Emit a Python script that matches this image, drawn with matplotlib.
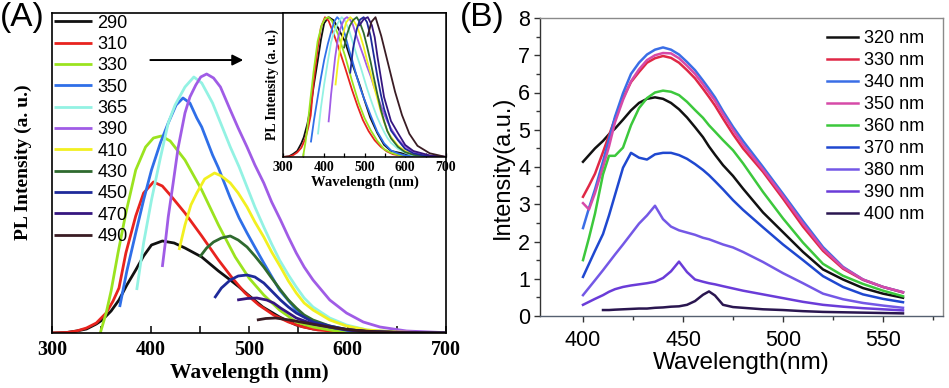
import numpy as np
import matplotlib
matplotlib.use('Agg')
import matplotlib.pyplot as plt
from matplotlib.ticker import MultipleLocator

SERIF = 'Liberation Serif'
SANS = 'Liberation Sans'

# ── panel A: PL spectra, excitation 290-490 nm ───────────────────────────────
A_EXC = ['290', '310', '330', '350', '365', '390', '410', '430', '450', '470', '490']
A_COLORS = ['#111111', '#e8231e', '#9be31f', '#2f6fe8', '#93f2e3', '#a05ce6',
            '#f2f020', '#2f6a2f', '#1e2a9a', '#361680', '#3a1c24']

WL_290 = [300, 315, 325, 335, 345, 351, 360, 368, 376, 385, 393, 401, 412, 424, 435,
          452, 469, 481, 490, 498, 514, 531, 548, 565, 582, 600, 620, 660, 700]
PL_290 = [0, 0.5, 2, 4, 9, 13, 22, 33, 48, 63, 77, 88, 92, 90, 85,
          76, 62, 53, 46, 39, 26, 16, 8, 4, 3, 2, 1, 0.3, 0]
WL_310 = [300, 315, 325, 335, 345, 355, 362, 368, 375, 385, 393, 403, 412, 420, 435,
          452, 469, 483, 496, 510, 525, 540, 555, 570, 590, 620, 660, 700]
PL_310 = [0, 0.5, 2, 5, 10, 20, 32, 45, 80, 117, 140, 151, 147, 138, 120,
          97, 73, 55, 40, 28, 18, 11, 6, 3, 1.5, 0.7, 0.2, 0]
WL_330 = [349, 355, 360, 367, 375, 385, 395, 403, 411, 420, 435, 452, 469, 486,
          500, 515, 531, 548, 565, 585, 605, 640, 700]
PL_330 = [0, 20, 42, 80, 120, 163, 186, 195, 197, 192, 173, 143, 108, 76,
          55, 38, 23, 11, 6, 2.5, 0.8, 0.2, 0]
WL_350 = [368.7, 376, 385, 393, 401, 410, 418, 426, 433, 440, 447, 452, 463, 469, 481,
          490, 498, 507, 515, 531, 548, 565, 582, 600, 630, 670, 700]
PL_350 = [26, 62, 100, 133, 163, 190, 210, 228, 235, 230, 215, 206, 178, 165, 135,
          115, 100, 84, 70, 43, 23, 11, 6, 2.5, 0.8, 0.2, 0]
WL_365 = [386, 393, 401, 410, 418, 425, 435, 444, 452, 463, 472, 481, 490, 498, 506,
          515, 523, 531, 540, 548, 556, 565, 582, 599, 620, 650, 700]
PL_365 = [43, 90, 133, 175, 210, 228, 246, 256, 250, 230, 208, 186, 166, 146, 126,
          106, 89, 73, 58, 46, 35, 26, 15, 8, 3, 1, 0]
WL_390 = [412, 415, 418, 423, 428, 435, 440, 446, 451, 457, 464, 471, 481, 489, 498,
          506, 515, 523, 532, 540, 548, 556, 565, 582, 599, 616, 633, 660, 700]
PL_390 = [66, 90, 116, 150, 185, 220, 236, 248, 256, 259, 255, 246, 223, 205, 186,
          168, 150, 131, 113, 96, 80, 66, 53, 33, 20, 11, 6, 2, 0.3]
WL_410 = [429, 435, 441, 447, 455, 465, 472, 481, 489, 498, 506, 515, 523, 532, 540,
          548, 556, 565, 582, 599, 620, 650, 700]
PL_410 = [83, 108, 128, 140, 154, 160, 157, 150, 140, 126, 111, 96, 81, 66, 52,
          40, 30, 23, 13, 7, 3, 1, 0]
WL_430 = [450, 457, 464, 472, 481, 489, 498, 506, 515, 523, 532, 540, 548, 556, 565,
          582, 599, 620, 650, 700]
PL_430 = [76, 85, 91, 95, 97, 93, 86, 77, 66, 55, 43, 33, 25, 18, 13,
          7, 3.5, 1.5, 0.5, 0]
WL_450 = [465, 472, 481, 489, 498, 506, 515, 523, 532, 540, 548, 565, 582, 599, 620, 650, 700]
PL_450 = [35, 45, 53, 57, 58, 56, 50, 42, 33, 26, 20, 11, 7, 3.5, 1.5, 0.5, 0]
WL_470 = [488, 498, 508, 518, 525, 532, 540, 548, 565, 582, 600, 620, 660, 700]
PL_470 = [33, 34.5, 35, 33, 30, 25, 20, 15, 9, 6, 3, 1.5, 0.4, 0]
WL_490 = [508, 517, 527, 541, 558, 575, 592, 610, 630, 660, 700]
PL_490 = [13, 14.5, 15, 13, 10, 7, 4.5, 2.5, 1.2, 0.4, 0]

A_WL = [WL_290, WL_310, WL_330, WL_350, WL_365, WL_390, WL_410, WL_430, WL_450, WL_470, WL_490]
A_PL = [PL_290, PL_310, PL_330, PL_350, PL_365, PL_390, PL_410, PL_430, PL_450, PL_470, PL_490]

# ── panel B: intensity vs wavelength, excitation 320-400 nm ─────────────────
B_EXC = ['320 nm', '330 nm', '340 nm', '350 nm', '360 nm', '370 nm', '380 nm', '390 nm', '400 nm']
B_COLORS = ['#111111', '#e02846', '#3a6ee6', '#d64aa8', '#3cc83c', '#1f48d0',
            '#7458e6', '#6a3cd8', '#2a1650']
B_WL = [400, 403, 406, 410, 413, 416, 420, 424, 428, 432, 436, 440, 444, 448, 452,
        456, 460, 463, 466, 470, 475, 480, 490, 500, 510, 520, 530, 540, 550, 560]
I_320 = [4.14, 4.32, 4.5, 4.7, 4.88, 5.03, 5.27, 5.52, 5.72, 5.83, 5.87, 5.83, 5.72, 5.55, 5.33,
         5.07, 4.8, 4.55, 4.33, 4.05, 3.76, 3.42, 2.78, 2.25, 1.72, 1.25, 0.98, 0.75, 0.6, 0.49]
I_330 = [3.2, 3.5, 3.82, 4.4, 4.85, 5.3, 5.85, 6.28, 6.55, 6.8, 6.92, 6.98, 6.93, 6.8, 6.6,
         6.38, 6.1, 5.88, 5.65, 5.3, 4.88, 4.5, 3.87, 3.15, 2.4, 1.75, 1.27, 0.97, 0.78, 0.63]
I_340 = [2.36, 2.9, 3.4, 4.15, 4.75, 5.35, 5.98, 6.5, 6.8, 7.02, 7.15, 7.21, 7.15, 7.02, 6.82,
         6.6, 6.32, 6.1, 5.87, 5.5, 5.08, 4.7, 4.0, 3.28, 2.55, 1.85, 1.32, 0.98, 0.78, 0.64]
I_350 = [3.03, 2.86, 3.3, 4.0, 4.55, 5.2, 5.8, 6.3, 6.62, 6.87, 7.0, 7.06, 7.05, 6.92, 6.72,
         6.5, 6.22, 6.0, 5.78, 5.42, 5.0, 4.6, 3.93, 3.22, 2.48, 1.8, 1.3, 0.98, 0.78, 0.64]
I_360 = [1.5, 2.1, 2.75, 3.8, 4.3, 4.3, 4.52, 5.12, 5.58, 5.85, 6.0, 6.05, 6.02, 5.93, 5.75,
         5.53, 5.32, 5.12, 4.95, 4.72, 4.45, 4.1, 3.33, 2.62, 1.97, 1.4, 1.08, 0.86, 0.68, 0.53]
I_370 = [1.05, 1.4, 1.75, 2.2, 2.7, 3.25, 3.98, 4.38, 4.25, 4.2, 4.34, 4.38, 4.38, 4.32, 4.22,
         4.08, 3.92, 3.78, 3.62, 3.4, 3.11, 2.85, 2.38, 1.92, 1.5, 1.07, 0.78, 0.58, 0.46, 0.37]
I_380 = [0.56, 0.76, 0.96, 1.23, 1.44, 1.65, 1.92, 2.2, 2.48, 2.7, 2.96, 2.6, 2.4, 2.3, 2.24,
         2.18, 2.1, 2.06, 2.0, 1.92, 1.84, 1.72, 1.45, 1.15, 0.88, 0.6, 0.45, 0.35, 0.28, 0.22]
I_390 = [0.3, 0.38, 0.46, 0.56, 0.65, 0.72, 0.78, 0.82, 0.85, 0.88, 0.92, 1.02, 1.2, 1.46, 1.18,
         0.98, 0.92, 0.88, 0.85, 0.8, 0.74, 0.68, 0.58, 0.48, 0.38, 0.3, 0.25, 0.21, 0.18, 0.15]
I_400 = [np.nan, np.nan, np.nan, 0.16, 0.16, 0.17, 0.18, 0.19, 0.2, 0.2, 0.22, 0.23, 0.25, 0.26, 0.3,
         0.4, 0.57, 0.66, 0.55, 0.3, 0.24, 0.22, 0.18, 0.16, 0.13, 0.11, 0.1, 0.09, 0.08, 0.07]
B_I = [I_320, I_330, I_340, I_350, I_360, I_370, I_380, I_390, I_400]

W, H = 949, 388
fig = plt.figure(figsize=(W / 100, H / 100), dpi=100)


def px_axes(x0, y0, x1, y1):
    # axes from pixel box (top-left origin)
    return fig.add_axes([x0 / W, 1 - y1 / H, (x1 - x0) / W, (y1 - y0) / H])


def serif_ticks(ax, size):
    for lab in ax.get_xticklabels():
        lab.set_fontfamily(SERIF)
        lab.set_fontweight('bold')
        lab.set_fontsize(size)


# ── panel A main ─────────────────────────────────────────────────────────────
axA = px_axes(52, 13, 446, 333)
for exc, c, wl, pl in zip(A_EXC, A_COLORS, A_WL, A_PL):
    axA.plot(wl, pl, color=c, lw=2.0, label=exc, solid_capstyle='butt')
axA.set_xlim(300, 700)
axA.set_ylim(0, 320)
axA.set_yticks([])
axA.xaxis.set_major_locator(MultipleLocator(100))
axA.xaxis.set_minor_locator(MultipleLocator(50))
axA.tick_params(axis='x', which='both', direction='in', width=1.1)
axA.tick_params(axis='x', which='major', length=5, pad=5)
axA.tick_params(axis='x', which='minor', length=5)
for s in axA.spines.values():
    s.set_linewidth(1.2)
serif_ticks(axA, 14.5)
axA.set_xlabel('Wavelength (nm)', fontfamily=SERIF, fontweight='bold', fontsize=15.5, labelpad=2)
axA.set_ylabel('PL Intensity (a. u.)', fontfamily=SERIF, fontweight='bold', fontsize=14)
axA.yaxis.set_label_coords(-0.05, 0.535)
axA.legend(loc='upper left', frameon=False, prop={'family': SANS, 'size': 13},
           handlelength=2.1, handletextpad=0.3, labelspacing=0.24,
           borderaxespad=0.0, borderpad=0.1)
axA.annotate('', xy=(497, 0.853), xytext=(397, 0.853),
             xycoords=('data', 'axes fraction'),
             arrowprops=dict(arrowstyle='-|>', color='k', lw=1.4, mutation_scale=16))

# ── panel A inset: normalised spectra ────────────────────────────────────────
axIn = px_axes(283, 13, 446, 157)
for c, wl, pl in zip(A_COLORS, A_WL, A_PL):
    pl = np.asarray(pl, dtype=float)
    axIn.plot(wl, pl / pl.max(), color=c, lw=1.3)
axIn.set_xlim(300, 700)
axIn.set_ylim(0, 1.03)
axIn.set_yticks([])
axIn.xaxis.set_major_locator(MultipleLocator(100))
axIn.xaxis.set_minor_locator(MultipleLocator(50))
axIn.tick_params(axis='x', which='both', direction='in', length=3, width=0.9, pad=3)
for s in axIn.spines.values():
    s.set_linewidth(1.1)
serif_ticks(axIn, 10)
axIn.set_xlabel('Wavelength (nm)', fontfamily=SERIF, fontweight='bold', fontsize=10.5, labelpad=1)
axIn.set_ylabel('PL Intensity (a. u.)', fontfamily=SERIF, fontweight='bold', fontsize=10,
                labelpad=3)

# ── panel B ──────────────────────────────────────────────────────────────────
axB = px_axes(540, 18, 943, 316)
for exc, c, vals in zip(B_EXC, B_COLORS, B_I):
    axB.plot(B_WL, vals, color=c, lw=1.8, label=exc)
axB.set_xlim(378.5, 580)
axB.set_ylim(0, 8)
axB.xaxis.set_major_locator(MultipleLocator(50))
axB.xaxis.set_minor_locator(MultipleLocator(25))
axB.yaxis.set_major_locator(MultipleLocator(1))
axB.yaxis.set_minor_locator(MultipleLocator(0.5))
axB.tick_params(which='both', direction='out', width=1, colors='#333333',
                labelcolor='black', labelsize=15.5)
axB.tick_params(which='major', length=4)
axB.tick_params(which='minor', length=3)
axB.tick_params(axis='x', pad=6)
axB.tick_params(axis='y', pad=3)
for lab in axB.get_xticklabels() + axB.get_yticklabels():
    lab.set_fontfamily(SANS)
axB.spines['left'].set_color('#333333')
axB.spines['bottom'].set_color('#556070')
axB.spines['top'].set_color('#8a8a8a')
axB.spines['right'].set_color('#8a8a8a')
for s in axB.spines.values():
    s.set_linewidth(1.0)
axB.set_xlabel('Wavelength(nm)', fontfamily=SANS, fontsize=17.5, labelpad=1)
axB.set_ylabel('Intensity(a.u.)', fontfamily=SANS, fontsize=17, labelpad=3)
axB.legend(loc='upper left', bbox_to_anchor=(0.712, 0.96), frameon=False,
           prop={'family': SANS, 'size': 13}, handlelength=1.7, handletextpad=0.35,
           labelspacing=0.28, borderpad=0.0, borderaxespad=0.0)

fig.text(0.0, 0.995, '(A)', fontsize=24, fontfamily=SANS, va='top', ha='left')
fig.text(460 / W, 0.995, '(B)', fontsize=24, fontfamily=SANS, va='top', ha='left')

fig.savefig('out.png', dpi=100)
plt.close()
print('out.png')
